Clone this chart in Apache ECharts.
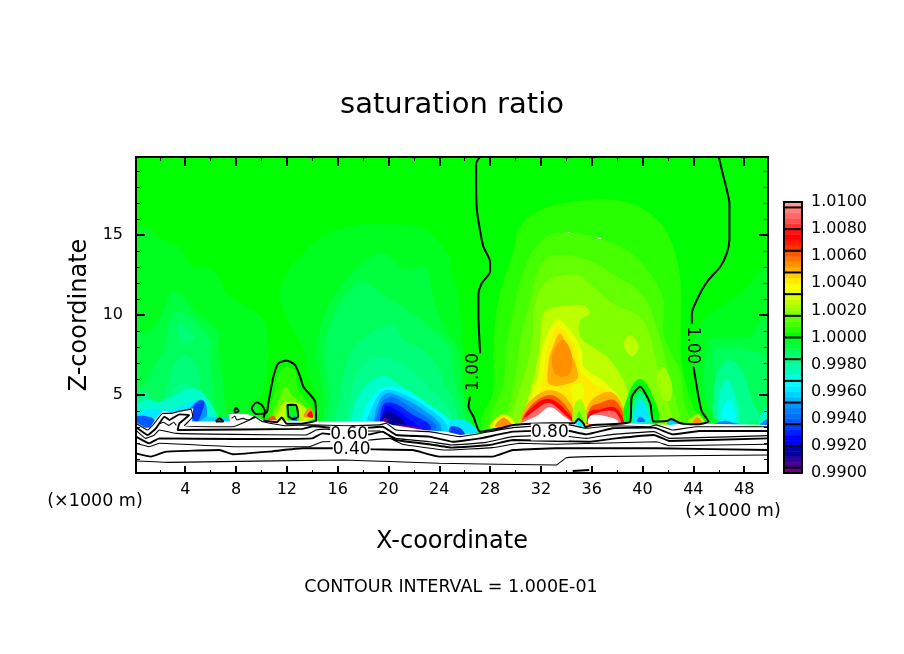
<!DOCTYPE html>
<html>
<head>
<meta charset="utf-8">
<title>saturation ratio</title>
<style>
	html, body { margin: 0; padding: 0; background: #fff; }
	#chart { width: 904px; height: 654px; }
</style>
<script src="https://cdn.jsdelivr.net/npm/echarts@6/dist/echarts.min.js"></script>
</head>
<body>
<div id="chart"></div>
<script>
// axis ranges and ticks (x and z in 1000 m)
var xRange = [0.125, 49.875];
var zRange = [0.125, 19.875];
var xMajor = [4, 8, 12, 16, 20, 24, 28, 32, 36, 40, 44, 48];
var xMinor = [2, 6, 10, 14, 18, 22, 26, 30, 34, 38, 42, 46];
var zMajor = [5, 10, 15];
var zMinor = [1, 2, 3, 4, 6, 7, 8, 9, 11, 12, 13, 14, 16, 17, 18, 19];

// colour bar
var barRange = [0.99, 1.01];
var barStep = 0.0004;
var barSeparators = [0.9904, 0.992, 0.9936, 0.9952, 0.9968, 0.9984, 1.0, 1.0016, 1.0032, 1.0048, 1.0064, 1.008, 1.0096];
var barColors = [
	'#6e008c',
	'#4b0096', '#320096', '#000096', '#0000b4',
	'#0000ff', '#0000ff', '#001eff', '#003cff',
	'#005aff', '#006eff', '#0082ff', '#0096ff',
	'#00b4ff', '#00d2ff', '#00ebff', '#00ffff',
	'#00ffe6', '#00ffc8', '#00ffaa', '#00ff8c',
	'#00ff78', '#00ff5a', '#00ff3c', '#00ff1e',
	'#00ff00', '#28ff00', '#46ff00', '#64ff00',
	'#82ff00', '#a0ff00', '#beff00', '#d7ff00',
	'#ebff00', '#ffff00', '#ffeb00', '#ffcd00',
	'#ffaf00', '#ff9100', '#ff7300', '#ff5500',
	'#ff3200', '#ff1900', '#ff0000', '#ff1414',
	'#ff3232', '#ff5050', '#ff6969', '#ff7d7d',
	'#ff9696'
];

// filled regions: [saturation ratio, outline as [x, z]], outer ones first
var background = [
	[1.0002, [[0.125, 0.125], [49.875, 0.125], [49.875, 19.875], [0.125, 19.875]]]
];
var coolLeft = [
	[0.9998, [[0.12, 15.1], [0.96, 15.5], [2, 14.8], [3.6, 14.2], [4.5, 13.1], [6.2, 12.8], [7.3, 11.35], [8.6, 10.6], [10.15, 9.7], [10.5, 7.8], [10.4, 6.5], [10, 5], [9.6, 4.3], [10, 3], [0.12, 3]]],
	[0.9994, [[0.12, 9.05], [0.96, 8.85], [2, 9.7], [2.93, 11.45], [3.6, 11.35], [4.9, 10.1], [6.5, 9.05], [6.6, 7.8], [6.9, 6.5], [7.1, 4.5], [7.2, 3], [0.12, 3]]],
	[0.999, [[2.3, 7.8], [3.05, 10.1], [4.1, 10.1], [5.95, 8.45], [5.95, 7.8], [6.1, 6], [6.3, 4.5], [6.3, 3], [0.12, 3], [0.12, 5.2], [0.9, 5.8], [1.6, 6.8]]],
	[0.9986, [[3.45, 9.5], [3.7, 9.5], [4.8, 8.55], [3.85, 8.2], [3.45, 8.85]]],
	[0.9986, [[1.8, 3], [2.6, 5.5], [3.2, 7], [4.2, 7.5], [5, 6.5], [5.2, 4.5], [5.4, 3]]],
	[0.9982, [[0.12, 3], [0.12, 4.6], [1, 5.2], [1.4, 4.6], [2, 3]]],
	[0.9982, [[2.4, 3], [3, 5.2], [4.2, 5.8], [4.8, 4.5], [5, 3]]],
	[0.9974, [[0.12, 3], [0.12, 4.3], [1, 4.7], [2, 4.6], [3, 4.9], [4.2, 5.4], [5.3, 5.2], [6.4, 3.9], [6.6, 3]]],
	[0.9962, [[0.12, 3.2], [0.12, 3.9], [0.9, 4.1], [1.6, 4.15], [2.6, 4.05], [3.2, 4.15], [3.9, 4.4], [5, 4.7], [5.7, 3.9], [6, 3]]],
	[0.995, [[3.9, 3.5], [4.6, 4.4], [5.3, 4.7], [5.7, 4.2], [5.5, 3.4]]],
	[0.9934, [[4.4, 3.9], [5, 4.6], [5.5, 4.6], [5.3, 3.9], [4.9, 3.3]]],
	[0.9938, [[0.12, 3.05], [0.12, 3.6], [0.7, 3.7], [1.5, 3.5], [1.6, 3]]],
	[0.9958, [[5, 3.2], [5.6, 3.6], [6.5, 3.6], [7.5, 3.5], [7.5, 3.2]]]
];
var coolMiddle = [
	[0.9998, [[14.5, 2.5], [14.4, 4.8], [13.6, 6.4], [13.3, 7.8], [11.5, 10.9], [12, 12.6], [13.8, 14.3], [15.9, 15.3], [18.5, 15.7], [22.2, 15.56], [23.3, 15.1], [24.85, 13.6], [25, 12.6], [25.4, 11.6], [25.9, 7.8], [26, 7], [26.2, 5.5], [26.2, 4.7], [26.9, 3.6], [27.2, 2.8], [25, 2.5]]],
	[0.9994, [[14.35, 7.8], [14.9, 9.9], [16.45, 12], [18, 13.2], [19.6, 13.85], [21.2, 12.9], [23, 12.9], [23.4, 11.55], [24.2, 9.5], [25.5, 7.8], [25.8, 5.5], [26, 4.5], [26.5, 3.3], [26.5, 2.5], [15.2, 2.5], [14.9, 4.5], [14.6, 6.5]]],
	[0.999, [[15, 7.8], [15.65, 9.9], [17.75, 12.1], [20.1, 11], [22.2, 9.9], [24.05, 8.65], [24.85, 7.8], [25.2, 6], [25.6, 4.8], [26, 3.5], [26, 2.5], [15.5, 2.5], [15.4, 5]]],
	[0.9986, [[17.1, 7.8], [18.55, 8.85], [20.4, 9.4], [21.2, 8.45], [22.75, 7.8], [23.8, 6.8], [24.5, 5.5], [25.2, 4.5], [25.5, 3], [25.5, 2.5], [16, 2.5], [16.2, 5]]],
	[0.9982, [[17, 2.5], [17, 5], [18, 6.8], [19.5, 7.4], [21, 7], [22.5, 6], [23.8, 5], [24.8, 4], [25.2, 3], [25.2, 2.5]]],
	[0.9974, [[17.2, 2.5], [17.4, 4.5], [18.2, 5.6], [19.6, 6.2], [21, 5.6], [22.5, 4.8], [24, 4], [25, 3], [25, 2.5]]],
	[0.9966, [[17.8, 3.2], [18.55, 4.7], [19.6, 5.5], [21.4, 5.3], [23.3, 4.3], [25, 3.3], [25, 2.5], [17.8, 2.5]]],
	[0.9958, [[18.3, 2.5], [18.9, 4.6], [19.7, 5.3], [21.1, 5.1], [22.9, 4.3], [24.5, 3.25], [24.5, 2.5]]],
	[0.995, [[18.8, 3.2], [19.2, 4.5], [19.85, 5.1], [20.9, 4.9], [22.5, 4.2], [24.05, 3.2], [24, 2.5], [18.8, 2.5]]],
	[0.9942, [[19, 2.5], [19.4, 4.45], [20, 4.85], [20.7, 4.75], [22.2, 4], [23.7, 3.15], [23.5, 2.5]]],
	[0.993, [[19.3, 3.2], [19.6, 4.4], [20.4, 4.5], [21.95, 3.75], [23.3, 3.1], [23, 2.5], [19.3, 2.5]]],
	[0.9922, [[19.4, 2.5], [19.7, 4.2], [20.2, 4.25], [21.6, 3.5], [22.4, 3], [22, 2.5]]],
	[0.9914, [[19.45, 3.2], [19.85, 4], [20.65, 3.75], [21.4, 3.1], [21, 2.5], [19.5, 2.5]]],
	[0.9902, [[19.5, 3.3], [19.75, 3.6], [20, 3.3]]],
	[0.9902, [[20.4, 3.1], [21.5, 3.1], [22.8, 2.85], [22.5, 2.6], [20.5, 2.7]]],
	[0.9962, [[24.85, 2.5], [24.85, 3.4], [26, 3.4], [27, 2.8], [26.9, 2.4]]],
	[0.9934, [[24.85, 2.5], [24.85, 3], [25.6, 2.95], [26, 2.5]]]
];
var coolRight = [
	[0.9998, [[49.87, 13.1], [47.95, 11.55], [46.1, 10.5], [44.55, 9.45], [43.9, 7.8], [44.15, 6.6], [44.55, 4.7], [45.2, 3.44], [45.2, 2.5], [49.87, 2.5]]],
	[0.9994, [[49.87, 9.9], [48.95, 9.25], [48.5, 8.65], [45.3, 8.45], [45.05, 7.8], [44.8, 6.15], [45.05, 4.5], [45.6, 3.44], [45.6, 2.5], [49.87, 2.5]]],
	[0.999, [[45.6, 7.8], [46.4, 8], [48.5, 7.8], [49.87, 7.2], [49.87, 2.5], [46.2, 2.5], [45.9, 5]]],
	[0.9982, [[45.85, 3.44], [45.6, 5.3], [46, 6.6], [46.9, 7.2], [47.95, 6.35], [48.5, 4.9], [49.1, 3.44]]],
	[0.9974, [[46.1, 3.3], [46, 4.9], [46.65, 5.95], [47.3, 4.9], [47.55, 3.3]]],
	[0.9966, [[46.25, 3.3], [46.4, 4.3], [46.75, 4.7], [47.15, 4.2], [47.3, 3.3]]],
	[0.9974, [[49.1, 3.3], [49.87, 4.3], [49.87, 3.2]]],
	[0.9946, [[45.5, 3.1], [46.5, 3.4], [47, 3.3], [48, 3.1]]],
	[0.9946, [[49.2, 3.1], [49.87, 3.5], [49.87, 3]]]
];
var plume = [
	[1.0006, [[28.65, 10.9], [29.85, 14.05], [30.35, 15.5], [32.2, 16.65], [36.15, 17.2], [39, 17], [41.1, 16], [42.3, 14.5], [43, 12], [43, 7.8], [43.2, 6.4], [43.75, 4.7], [44.3, 3.55], [44.3, 2.5], [27.5, 2.5], [27.3, 3.5], [27.5, 3.9], [28.25, 5.3], [28.25, 7.8]]],
	[1.001, [[29.85, 10.3], [30.5, 12.4], [31.4, 14.05], [32.7, 15], [34.2, 15.15], [36.55, 14.8], [38.75, 14.05], [40.6, 12.6], [41.65, 10.9], [41.65, 8.85], [42.15, 7.8], [43, 6.4], [43.2, 4.7], [43.75, 3.44], [43.75, 2.5], [28, 2.5], [28.2, 4], [29, 5.5], [29.3, 8]]],
	[1.0014, [[31.15, 10.9], [31.7, 12.6], [32.7, 13.65], [35.35, 13.55], [38, 12.4], [40.1, 11.15], [41.1, 9.25], [41.65, 7.8], [42, 6.5], [42.5, 5], [43, 3.5], [43, 2.5], [29, 2.5], [29.4, 4], [30, 6], [30.4, 8.5]]],
	[1.0018, [[32.45, 12.1], [34.8, 12.5], [36.15, 11.75], [37.7, 10.7], [39.8, 9.9], [40.6, 8.65], [40.85, 7.8], [41.5, 6], [42, 4.5], [42.5, 3.2], [42.5, 2.5], [29.5, 2.5], [30, 4.5], [30.8, 6.5], [31.3, 8.5], [31.5, 10.5]]],
	[1.0026, [[32.2, 10.1], [33.25, 10.5], [35.35, 10.6], [35.85, 10.1], [35.1, 9.7], [35.1, 8.65], [36.4, 7.8], [37.2, 7.4], [38.5, 5.9], [38.9, 4.7], [39, 3], [39, 2.5], [30, 2.5], [30.7, 4], [31.4, 6], [31.9, 8]]],
	[1.0026, [[38.5, 8.2], [39.05, 8.75], [39.7, 8], [39.15, 7.4]]],
	[1.0022, [[41.1, 6.15], [41.65, 6.75], [42.3, 5.7], [42.2, 4.7], [41.65, 4.7]]],
	[1.0034, [[32.05, 7.8], [33.25, 9.7], [34.3, 9.05], [35.2, 7.8], [35.35, 6.8], [36.4, 6.15], [37.45, 5.5], [38.35, 4.5], [38.75, 3.2], [38.75, 2.5], [30.5, 2.5], [30.5, 3.2], [31, 4.7], [31.8, 6.15]]],
	[1.0042, [[32.45, 7.8], [33.25, 9.25], [34.05, 8.85], [34.8, 7.8], [35.1, 6.55], [36.15, 5.7], [37.2, 5.3], [38.25, 4.3], [38.5, 3.2], [38.5, 2.5], [31, 2.5], [31.3, 4], [32, 5.5], [32.3, 7]]],
	[1.0034, [[34.4, 5.5], [35.2, 5.7], [35.35, 4.9], [34.7, 4.6]]],
	[1.005, [[32.85, 7.8], [33.5, 8.85], [34.15, 7.8], [34.7, 7], [34.8, 5.95], [32.7, 5.65], [32.6, 7]]],
	[1.0054, [[33, 7.8], [33.75, 8.45], [34.4, 7.6], [34.4, 6.55], [33.9, 6.15], [33.1, 6.35], [32.85, 7.2]]]
];
var arches = [
	[1.005, [[30.5, 3.2], [30.75, 4.2], [31.7, 5], [32.7, 5.3], [33.9, 4.9], [34.7, 3.4]]],
	[1.0062, [[30.6, 3.3], [31.3, 4.4], [32.7, 5], [33.75, 4.5], [34.55, 3.3]]],
	[1.0074, [[30.75, 3.55], [31.7, 4.5], [32.7, 4.75], [33.75, 4.2], [34.5, 3.3]]],
	[1.009, [[30.5, 3.2], [31.8, 4.2], [32.7, 4.5], [33.9, 3.75], [34.45, 3.25]]],
	[1.0105, [[30.5, 3.2], [31.7, 3.7], [32.7, 4.25], [33.75, 3.7], [34.45, 3.2]]],
	[1.005, [[35.5, 3.2], [35.6, 4.1], [36.15, 4.8], [37.45, 5.2], [38.25, 4.6], [38.75, 3.2]]],
	[1.0062, [[35.6, 3.2], [35.9, 4.2], [36.65, 4.5], [37.7, 4.7], [38.35, 4.1], [38.6, 3.2]]],
	[1.0074, [[35.65, 3.2], [35.9, 4], [36.65, 4.1], [37.7, 4.25], [38.25, 3.85], [38.55, 3.2]]],
	[1.009, [[35.75, 3.2], [36, 3.75], [37.7, 4], [38.25, 3.2]]],
	[1.0105, [[35.75, 3.2], [35.9, 3.7], [36.9, 3.7], [37.95, 3.45], [38.1, 3.2]]],
	[1.0022, [[34.55, 3.2], [34.7, 4.5], [35.2, 4.7], [35.6, 3.3]]],
	[1.001, [[34.8, 3.2], [35, 4], [35.35, 3.2]]],
	[0.9966, [[34.7, 3], [34.95, 3.45], [35.35, 3]]],
	[1.0034, [[28, 3], [28.8, 3.75], [29.45, 3.7], [29.95, 3.1]]],
	[1.0054, [[28.4, 3], [28.9, 3.55], [29.3, 3.5], [29.7, 3.1]]],
	[1.0022, [[43.5, 3.2], [44.3, 3.85], [44.9, 3.2]]],
	[1.0054, [[43.9, 3.2], [44.3, 3.6], [44.7, 3.2]]]
];
var column = [
	[1.0002, [[38.6, 3.3], [39, 5.3], [39.8, 6], [40.6, 5.3], [41.25, 3.3]]],
	[0.9982, [[39.15, 3.2], [39.35, 4.8], [39.8, 5.2], [40.35, 4.7], [40.75, 3.2]]],
	[0.9962, [[39.35, 3.35], [39.55, 4.4], [39.8, 4.7], [40.2, 4.4], [40.45, 3.35]]],
	[0.9942, [[39.55, 3.35], [39.8, 3.65], [40.2, 3.35]]],
	[0.9958, [[41.9, 3.2], [42.5, 3.5], [43.1, 3.1]]]
];
var hill = [
	[1.0006, [[10.55, 3.65], [10.95, 4.9], [11.35, 6.35], [12, 6.8], [12.65, 6.45], [12.9, 5.3], [13.7, 4.5], [14.2, 3.55]]],
	[1.0014, [[10.95, 3.5], [11.35, 4.7], [11.85, 5.5], [12.5, 4.9], [13.15, 4.5], [13.95, 3.5]]],
	[1.0026, [[11.2, 3.4], [11.7, 4.5], [12.25, 4.6], [13.3, 4.3], [14.1, 3.5]]],
	[1.0054, [[13.3, 3.65], [13.8, 4.2], [14.1, 3.65]]],
	[1.0074, [[13.6, 3.7], [13.9, 4], [14.05, 3.6]]],
	[1.0062, [[10.4, 3.4], [10.95, 3.7], [11.2, 3.3]]],
	[1.0054, [[12, 3.2], [12.5, 3.8], [13, 3.2]]],
	[0.9998, [[12.1, 3.3], [12.05, 4.4], [12.7, 4.4], [12.9, 3.3]]],
	[0.9946, [[12.4, 3.3], [12.6, 3.7], [12.85, 3.3]]]
];
// white ground below the lowest colour level
var ground = [
	[0.985, [[0.125, 0.125], [49.875, 0.125], [49.875, 3.13], [43.2, 3.23], [42.2, 3.13], [38.5, 3.23], [36.1, 3.13], [35.35, 2.92], [34.56, 3.23], [32.7, 3.23], [29.84, 3.13], [28.8, 2.92], [27.2, 2.62], [25.64, 2.5], [24.6, 2.71], [22.75, 2.82], [21.2, 3.02], [20.3, 3.125], [19.6, 3.34], [14.35, 3.34], [10.15, 3.44], [9.5, 3.65], [8.84, 3.81], [7.4, 3.81], [7.53, 3.34], [4.51, 3.34], [4.64, 4.17], [3.59, 4.02], [3.07, 3.85], [2.28, 4.02], [1.62, 3.44], [1.23, 2.95], [0.83, 2.95], [0.125, 3.3]]]
];

// contour lines, thin ones are the odd tenths
var level03 = [[0.12, 0.875], [2.75, 0.79], [16.4, 0.94], [20.6, 0.83], [24, 0.73], [33.2, 0.625], [34, 1.08], [35.8, 1.15], [49.875, 1.25]];
var level05 = [[0.12, 1.98], [1.17, 1.77], [1.96, 1.98], [7.97, 1.77], [13.8, 1.77], [14.8, 2.08], [15.6, 2.1], [18.5, 2.19], [20.1, 2.29], [21.1, 1.92], [24.5, 1.56], [28.2, 1.71], [30.3, 1.98], [33.2, 1.92], [41.1, 2.08], [42.1, 1.83], [49.875, 1.92]];
var level07 = [[0.12, 2.81], [0.9, 2.29], [1.57, 2.5], [1.96, 2.81], [3.27, 2.6], [7.97, 2.54], [13.5, 2.5], [14.3, 2.81], [15.1, 2.87], [16.66, 2.75], [19.3, 2.75], [20.6, 2.29], [23.2, 2.08], [25, 1.875], [27.7, 2.04], [29.8, 2.4], [33.2, 2.5], [35.56, 2.29], [37.66, 2.54], [40.9, 2.71], [42.1, 2.29], [49.875, 2.46]];
var level09 = [[0.12, 3.23], [1.04, 2.81], [1.57, 3.23], [2.22, 3.85], [2.88, 3.85], [3.4, 3.96], [4.45, 4.12], [4.6, 3.65], [3.93, 3.08], [7.74, 3.02], [9.05, 3.44], [9.44, 3.65], [10.1, 3.33], [11.9, 3.08], [13.8, 3.13], [16.66, 3.08], [19.3, 3.13], [19.8, 3.23], [20.6, 2.81], [23.2, 2.71], [25.6, 2.4], [27.2, 2.6], [29.8, 2.96], [33.2, 3.13], [34.25, 3.13], [35.56, 2.92], [37.66, 3.08], [40.55, 3.02], [41.07, 3.13], [42.4, 2.81], [44.2, 3.02], [49.875, 3.02]];
var squiggleA = [[1.9, 3.2], [2.3, 3.3], [2.7, 3.1], [3.1, 3.3], [3.3, 3.1]];
var squiggleB = [[7.65, 3.54], [7.9, 3.69], [8.05, 3.44], [8.55, 3.54], [8.95, 3.44], [9.5, 3.6]];
var contourThin = [level03, level05, level07, level09, squiggleA, squiggleB];

var level02 = [[34.5, 0.25], [35.8, 0.31]];
var level04 = [[0.12, 1.35], [1.3, 1.15], [2.5, 1.46], [6.7, 1.56], [7.74, 1.3], [10.6, 1.46], [13.25, 1.67], [15.6, 1.67], [18.9, 1.6], [21.9, 1.56], [24, 1.15], [28.2, 1.15], [29.8, 1.56], [33.2, 1.67], [41.1, 1.67], [49.875, 1.56]];
var level06 = [[0.12, 2.4], [1.17, 1.98], [1.96, 2.29], [7.97, 2.25], [14, 2.29], [14.8, 2.6], [16.1, 2.5], [18.5, 2.54], [19.55, 2.71], [20.6, 2.19], [23.2, 1.92], [25, 1.71], [27.95, 1.875], [29.8, 2.19], [33.2, 2.125], [35.8, 2.08], [37.9, 2.29], [40.9, 2.5], [42.1, 2.125], [49.875, 2.29]];
var level08 = [[0.12, 3], [1.04, 2.5], [1.7, 2.92], [2.36, 3.65], [2.75, 3.44], [3.54, 3.79], [4.32, 3.75], [3.54, 3.23], [3.4, 2.81], [13.2, 2.88], [14.1, 3.05], [16.66, 2.87], [19.55, 3.02], [20.6, 2.5], [23.2, 2.4], [25.06, 2.08], [27.2, 2.29], [29.8, 2.71], [33.2, 2.78], [34.25, 2.75], [35.56, 2.54], [37.66, 2.92], [40.9, 2.96], [42.4, 2.54], [44.5, 2.75], [49.875, 2.75]];
var contourThick = [level02, level04, level06, level08];

// the 1.00 level
var unityLeft = [[27.2, 19.875], [26.9, 19.48], [26.9, 18.44], [26.95, 16.66], [27.2, 15.31], [27.47, 14.27], [28, 13.33], [28, 12.7], [27.34, 11.98], [27.08, 11.35], [27.08, 9.9], [27.2, 7.8], [27.21, 7.6]];
var unityLower = [[26.42, 4.9], [26.3, 4.27], [26.69, 3.65], [27.21, 2.71], [28.79, 2.92], [29.84, 3.13], [32.72, 3.23], [34.61, 3.23], [34.95, 3.5], [35.35, 3.23], [35.5, 3], [36.1, 3.13], [39.02, 3.34], [39.15, 4.9], [39.81, 5.52], [40.6, 4.48], [40.86, 3.34], [41.9, 3.37], [42.25, 3.5], [43, 3.23], [44.2, 3.17], [45.19, 3.34], [44.67, 3.96], [44.4, 4.9], [44.01, 6.77]];
var unityRight = [[46, 19.875], [46.24, 19.06], [46.63, 17.81], [46.84, 16.98], [46.84, 14.7], [46.63, 13.85], [46.11, 13], [45.19, 12.2], [44.53, 11.35], [43.88, 10.1], [43.88, 9.47]];
var unityHill = [[10.15, 3.54], [10.28, 3.96], [10.02, 4.38], [9.62, 4.54], [9.23, 4.17], [9.57, 3.81], [10.41, 3.9], [10.54, 4.48], [10.94, 6.15], [11.33, 6.98], [11.99, 7.15], [12.64, 6.88], [13.04, 6.15], [13.3, 5.52], [14.22, 4.6], [14.3, 3.54], [14.3, 3.4], [13, 3.2], [12, 3.2], [11.6, 3.6], [11.2, 3.3], [10.15, 3.4]];
var unityBubble = [[12.12, 3.65], [12.04, 4.38], [12.7, 4.38], [12.9, 3.65], [12.5, 3.5], [12.12, 3.65]];
var unityDotA = [[7.85, 4], [8, 4.2], [8.2, 4], [8, 3.9], [7.85, 4]];
var unityDotB = [[6.4, 3.35], [6.7, 3.55], [7, 3.35], [6.4, 3.35]];
var contourUnity = [unityLeft, unityLower, unityRight, unityHill, unityBubble, unityDotA, unityDotB];

var whiteSpecks = [
	[[34.12, 15.16], [34.28, 15.16]],
	[[36.5, 14.79], [36.72, 14.79]]
];
// [x, z, text, rotation]
var contourLabels = [
	[16.9, 2.5, '0.60', 0],
	[17.1, 1.6, '0.40', 0],
	[32.7, 2.68, '0.80', 0],
	[26.66, 6.44, '1.00', 90],
	[43.9, 8.1, '1.00', -90]
];

var fillLayers = background.concat(coolLeft, coolMiddle, coolRight, plume, arches, column, hill, ground);

function colorOf(v) {
	if (v < barRange[0] || v > barRange[1]) return '#fff';
	return barColors[Math.min(barColors.length - 1, Math.floor((v - barRange[0]) / barStep + 1e-6))];
}

var myChart = echarts.init(document.getElementById('chart'), null, { renderer: 'canvas' });
var font = 'DejaVu Sans';

function plotX(position, values, length, width, labels) {
	return {
		type: 'value', gridIndex: 0, position: position, min: xRange[0], max: xRange[1], z: 6,
		axisLine: { show: true, onZero: false, lineStyle: { color: '#000', width: 2 } },
		axisTick: { show: true, inside: true, length: length, customValues: values, lineStyle: { color: '#000', width: width } },
		axisLabel: labels ? { show: true, customValues: values, margin: 9, color: '#000', fontFamily: font, fontSize: 16, formatter: '{value}' } : { show: false },
		splitLine: { show: false }
	};
}
function plotZ(position, values, length, width, labels) {
	return {
		type: 'value', gridIndex: 0, position: position, min: zRange[0], max: zRange[1], z: 6,
		axisLine: { show: true, onZero: false, lineStyle: { color: '#000', width: 2 } },
		axisTick: { show: true, inside: true, length: length, customValues: values, lineStyle: { color: '#000', width: width } },
		axisLabel: labels ? { show: true, customValues: values, margin: 13, padding: [3, 0, 0, 0], color: '#000', fontFamily: font, fontSize: 16, formatter: '{value}' } : { show: false },
		splitLine: { show: false }
	};
}
function barFrame(position) {
	return {
		type: 'value', gridIndex: 1, position: position, min: 0, max: 1, z: 6,
		axisLine: { show: true, onZero: false, lineStyle: { color: '#000', width: 2 } },
		axisTick: { show: false }, axisLabel: { show: false }, splitLine: { show: false }
	};
}

function contourLine(path, width, color, smooth) {
	return {
		type: 'line', xAxisIndex: 0, yAxisIndex: 0, z: 3, silent: true, showSymbol: false, smooth: smooth,
		data: path, lineStyle: { color: color, width: width }
	};
}

var series = [{
	type: 'custom',
	coordinateSystem: 'cartesian2d',
	xAxisIndex: 0,
	yAxisIndex: 0,
	z: 1,
	silent: true,
	clip: true,
	data: fillLayers.map(function (l, i) { return i; }),
	renderItem: function (params, api) {
		var layer = fillLayers[params.dataIndex];
		return {
			type: 'polygon',
			shape: {
				points: layer[1].map(function (p) { return api.coord(p); }),
				smooth: layer[0] < barRange[0] || params.dataIndex === 0 ? 0 : 0.35
			},
			style: { fill: colorOf(layer[0]) }
		};
	}
}];

contourThin.forEach(function (path) { series.push(contourLine(path, 1.1, '#000', 0.1)); });
contourThick.forEach(function (path) { series.push(contourLine(path, 1.9, '#000', 0.1)); });
contourUnity.forEach(function (path) { series.push(contourLine(path, 2, '#000', 0.2)); });
whiteSpecks.forEach(function (path) { series.push(contourLine(path, 1, '#fff', false)); });

series.push({
	type: 'custom',
	coordinateSystem: 'cartesian2d',
	xAxisIndex: 0,
	yAxisIndex: 0,
	z: 4,
	silent: true,
	data: contourLabels.map(function (l) { return [l[0], l[1]]; }),
	renderItem: function (params, api) {
		var l = contourLabels[params.dataIndex];
		var c = api.coord([l[0], l[1]]);
		return {
			type: 'text',
			x: c[0],
			y: c[1],
			rotation: l[3] * Math.PI / 180,
			style: {
				text: l[2], fill: '#000', align: 'center', verticalAlign: 'middle',
				fontFamily: font, fontSize: 17,
				backgroundColor: l[3] === 0 ? '#fff' : 'transparent'
			}
		};
	}
});

// colour bar cells and separators
series.push({
	type: 'custom',
	coordinateSystem: 'cartesian2d',
	xAxisIndex: 4,
	yAxisIndex: 4,
	z: 2,
	silent: true,
	data: barColors.map(function (c, i) { return i; }),
	renderItem: function (params, api) {
		var lo = api.coord([0, barRange[0] + barStep * params.dataIndex]);
		var hi = api.coord([1, barRange[0] + barStep * (params.dataIndex + 1)]);
		return {
			type: 'rect',
			shape: { x: lo[0], y: hi[1], width: hi[0] - lo[0], height: lo[1] - hi[1] },
			style: { fill: barColors[params.dataIndex], stroke: barColors[params.dataIndex], lineWidth: 0.6 }
		};
	}
}, {
	type: 'custom',
	coordinateSystem: 'cartesian2d',
	xAxisIndex: 4,
	yAxisIndex: 4,
	z: 3,
	silent: true,
	data: barSeparators.map(function (v, i) { return i; }),
	renderItem: function (params, api) {
		var v = barSeparators[params.dataIndex];
		var a = api.coord([0, v]);
		var b = api.coord([1, v]);
		return {
			type: 'line',
			shape: { x1: a[0], y1: a[1], x2: b[0], y2: b[1] },
			style: { stroke: '#000', lineWidth: 2 }
		};
	}
});

var option = {
	backgroundColor: '#fff',
	animation: false,
	title: {
		text: 'saturation ratio',
		left: 447,
		top: 86,
		textAlign: 'center',
		textStyle: { color: '#000', fontFamily: font, fontSize: 29, fontWeight: 'normal' }
	},
	grid: [
		{ left: 136, top: 157, width: 632, height: 316 },
		{ left: 784, top: 202, width: 18, height: 271 }
	],
	xAxis: [
		Object.assign(plotX('bottom', xMajor, 7, 2, true), { name: 'X-coordinate', nameLocation: 'middle', nameGap: 57, nameTextStyle: { color: '#000', fontFamily: font, fontSize: 24 } }),
		plotX('bottom', xMinor, 3, 1, false),
		plotX('top', xMajor, 9, 2, false),
		plotX('top', xMinor, 4, 1, false),
		barFrame('bottom'),
		barFrame('top')
	],
	yAxis: [
		Object.assign(plotZ('left', zMajor, 9, 2, true), { name: 'Z-coordinate', nameLocation: 'middle', nameGap: 41, nameTextStyle: { color: '#000', fontFamily: font, fontSize: 24 } }),
		plotZ('left', zMinor, 4, 1, false),
		plotZ('right', zMajor, 9, 2, false),
		plotZ('right', zMinor, 4, 1, false),
		{
			type: 'value', gridIndex: 1, position: 'right', min: barRange[0], max: barRange[1], interval: 0.002, z: 6,
			axisLine: { show: true, onZero: false, lineStyle: { color: '#000', width: 2 } },
			axisTick: { show: false },
			axisLabel: { show: true, margin: 9, padding: [3, 0, 0, 0], color: '#000', fontFamily: font, fontSize: 16, formatter: function (v) { return v.toFixed(4); } },
			splitLine: { show: false }
		},
		{
			type: 'value', gridIndex: 1, position: 'left', min: barRange[0], max: barRange[1], z: 6,
			axisLine: { show: true, onZero: false, lineStyle: { color: '#000', width: 2 } },
			axisTick: { show: false }, axisLabel: { show: false }, splitLine: { show: false }
		}
	],
	graphic: [
		{ type: 'text', x: 95, y: 501, style: { text: '(\u00d71000 m)', align: 'center', verticalAlign: 'middle', fill: '#000', font: '17.5px "DejaVu Sans"' } },
		{ type: 'text', x: 733, y: 511, style: { text: '(\u00d71000 m)', align: 'center', verticalAlign: 'middle', fill: '#000', font: '17.5px "DejaVu Sans"' } },
		{ type: 'text', x: 451, y: 587, style: { text: 'CONTOUR INTERVAL = 1.000E-01', align: 'center', verticalAlign: 'middle', fill: '#000', font: '17.5px "DejaVu Sans"' } }
	],
	series: series
};
myChart.setOption(option);
</script>
</body>
</html>
